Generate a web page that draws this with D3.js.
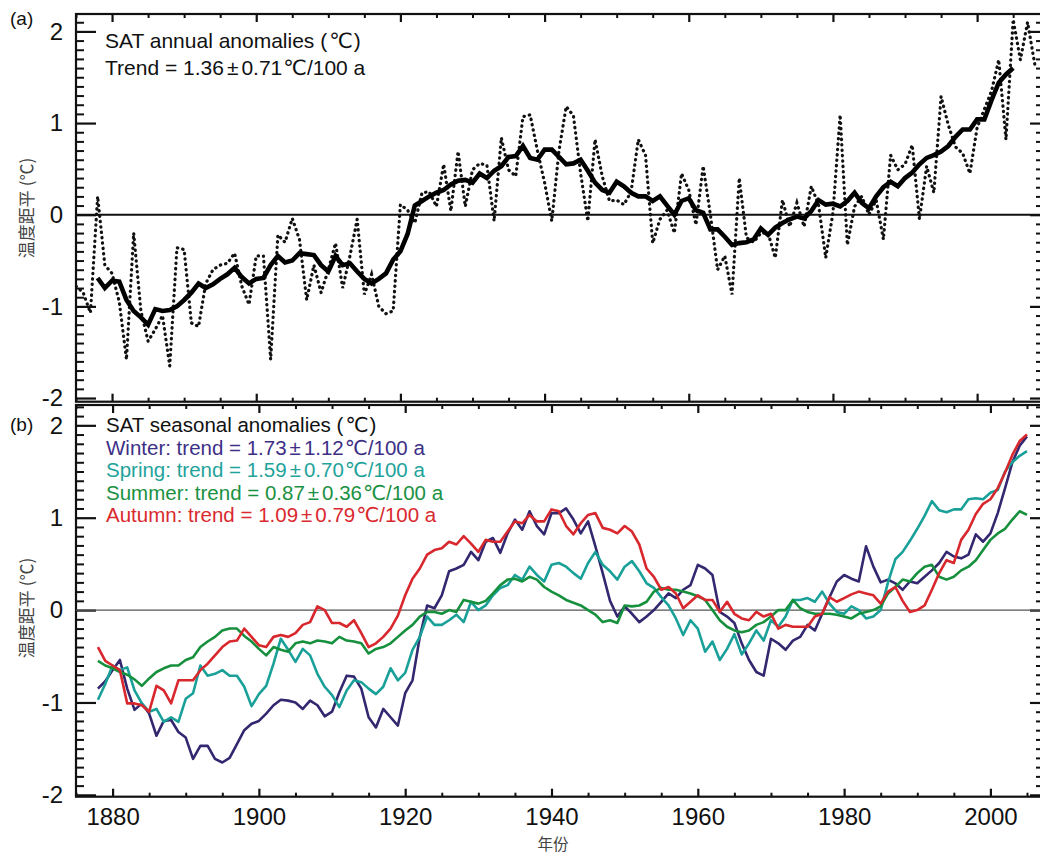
<!DOCTYPE html>
<html><head><meta charset="utf-8">
<script src="https://cdn.jsdelivr.net/npm/d3@7"></script>
<style>
body{margin:0;background:#fff}
svg{display:block}
text{font-family:"Liberation Sans",Arial,"Noto Sans CJK SC",sans-serif}
</style>
</head><body>
<svg id="c" width="1040" height="857"></svg>
<script>
// ---------------- data ----------------
const annualStart = 1875;
const annual = [
 -0.78,-0.85,-1.07,0.20,-0.55,
 -0.64,-0.95,-1.58,-0.20,-1.05,-1.38,-1.25,-1.10,-1.65,-0.36,
 -0.38,-1.18,-1.22,-0.75,-0.60,-0.55,-0.53,-0.42,-0.78,-0.98,
 -0.45,-0.45,-1.58,-0.22,-0.30,-0.04,-0.27,-0.93,-0.55,-0.85,
 -0.60,-0.31,-0.80,-0.45,-0.05,-0.87,-0.65,-1.00,-1.08,-1.05,
 0.11,0.05,-0.09,0.24,0.25,0.09,0.55,0.04,0.69,0.09,
 0.49,0.56,0.54,-0.07,0.84,0.49,0.42,1.07,1.09,0.70,
 0.35,-0.07,0.70,1.18,1.08,0.45,-0.07,0.82,0.42,0.15,
 0.16,0.11,0.25,0.82,0.65,-0.31,-0.05,0.05,-0.20,0.45,
 0.27,-0.11,0.53,0.00,-0.60,-0.45,-0.87,0.40,-0.25,-0.30,
 -0.20,-0.20,-0.47,0.16,-0.13,0.13,-0.13,0.31,0.11,-0.47,
 0.02,1.09,-0.33,0.09,0.20,0.00,0.16,-0.27,0.65,0.49,
 0.55,0.76,-0.05,0.53,0.24,1.29,0.98,0.74,0.67,0.45,
 0.95,1.15,1.35,1.69,0.82,2.13,1.69,2.10,1.64
];
const smoothStart = 1878;
const annualSmooth = [
 -0.69,-0.80,
 -0.72,-0.73,-0.93,-1.05,-1.12,-1.20,-1.03,-1.05,-1.04,-1.00,
 -0.93,-0.85,-0.75,-0.80,-0.76,-0.70,-0.65,-0.58,-0.68,-0.75,
 -0.70,-0.69,-0.55,-0.45,-0.52,-0.50,-0.42,-0.43,-0.44,-0.55,
 -0.62,-0.45,-0.55,-0.53,-0.62,-0.70,-0.75,-0.70,-0.64,-0.49,
 -0.40,-0.21,0.10,0.15,0.20,0.24,0.27,0.33,0.37,0.38,
 0.35,0.45,0.40,0.48,0.53,0.63,0.64,0.75,0.62,0.60,
 0.71,0.71,0.63,0.55,0.56,0.60,0.48,0.35,0.27,0.24,
 0.36,0.31,0.24,0.20,0.20,0.15,0.20,0.10,0.00,0.15,
 0.18,0.05,0.02,-0.16,-0.16,-0.24,-0.33,-0.31,-0.30,-0.27,
 -0.15,-0.22,-0.14,-0.09,-0.05,-0.02,-0.04,0.04,0.16,0.11,
 0.12,0.09,0.15,0.24,0.13,0.07,0.20,0.30,0.36,0.31,
 0.40,0.46,0.55,0.62,0.65,0.69,0.75,0.85,0.93,0.93,
 1.04,1.04,1.25,1.44,1.53,1.60
];
const seasonStart = 1878;
const winter = [
 -0.85,-0.77,
 -0.65,-0.54,-0.85,-1.08,-1.01,-1.12,-1.36,-1.20,-1.19,-1.32,
 -1.38,-1.61,-1.47,-1.47,-1.61,-1.65,-1.60,-1.45,-1.30,-1.23,
 -1.20,-1.12,-1.03,-0.97,-0.98,-1.00,-1.07,-0.98,-1.03,-1.15,
 -1.10,-0.89,-0.71,-0.72,-0.85,-1.16,-1.27,-1.07,-1.16,-1.25,
 -0.90,-0.76,-0.29,0.05,0.02,0.16,0.42,0.45,0.49,0.63,
 0.54,0.74,0.78,0.62,0.83,0.98,0.87,1.07,0.91,0.82,
 1.05,1.05,1.10,0.98,0.83,0.96,0.69,0.40,0.10,-0.07,
 0.04,-0.04,-0.13,-0.07,0.00,0.09,0.18,0.13,0.22,0.27,
 0.49,0.45,0.38,-0.02,-0.07,-0.14,-0.36,-0.54,-0.67,-0.71,
 -0.31,-0.36,-0.43,-0.33,-0.29,-0.16,-0.22,-0.04,0.14,0.31,
 0.38,0.34,0.31,0.69,0.47,0.30,0.33,0.29,0.22,0.31,
 0.29,0.36,0.43,0.51,0.63,0.58,0.56,0.60,0.82,0.74,
 0.83,1.05,1.32,1.60,1.78,1.88
];
const spring = [
 -0.97,-0.80,
 -0.60,-0.65,-0.62,-0.87,-1.01,-1.10,-1.07,-1.21,-1.16,-1.21,
 -0.96,-0.90,-0.60,-0.71,-0.69,-0.65,-0.71,-0.71,-0.83,-1.04,
 -0.91,-0.82,-0.58,-0.31,-0.43,-0.56,-0.42,-0.49,-0.69,-0.83,
 -0.92,-1.05,-0.87,-0.76,-0.78,-0.85,-0.91,-0.83,-0.63,-0.76,
 -0.68,-0.43,-0.29,-0.07,-0.16,-0.16,-0.11,-0.05,-0.13,0.09,
 0.00,0.05,0.16,0.24,0.27,0.38,0.33,0.47,0.38,0.31,
 0.49,0.51,0.47,0.40,0.34,0.51,0.63,0.49,0.42,0.33,
 0.47,0.53,0.42,0.29,0.24,0.14,0.05,-0.09,-0.27,-0.11,
 -0.20,-0.45,-0.34,-0.54,-0.42,-0.26,-0.48,-0.36,-0.22,-0.33,
 -0.11,-0.18,-0.07,0.11,0.11,0.13,0.09,0.20,0.07,-0.02,
 -0.04,0.04,0.00,-0.09,-0.07,0.00,0.30,0.55,0.63,0.75,
 0.88,1.02,1.18,1.08,1.06,1.09,1.09,1.20,1.21,1.20,
 1.27,1.30,1.50,1.60,1.67,1.72
];
const summer = [
 -0.55,-0.60,
 -0.63,-0.67,-0.70,-0.75,-0.82,-0.74,-0.67,-0.63,-0.60,-0.60,
 -0.54,-0.51,-0.40,-0.34,-0.29,-0.22,-0.20,-0.20,-0.28,-0.34,
 -0.42,-0.49,-0.40,-0.43,-0.45,-0.36,-0.34,-0.36,-0.33,-0.34,
 -0.36,-0.29,-0.33,-0.34,-0.36,-0.47,-0.42,-0.40,-0.36,-0.29,
 -0.22,-0.16,-0.07,-0.02,-0.02,-0.04,0.00,-0.02,0.11,0.09,
 0.07,0.10,0.18,0.27,0.33,0.34,0.31,0.36,0.33,0.25,
 0.20,0.16,0.11,0.08,0.05,0.00,-0.05,-0.13,-0.11,-0.14,
 0.05,0.04,0.05,0.09,0.20,0.24,0.22,0.22,0.20,0.18,
 0.15,0.11,0.00,-0.11,-0.18,-0.22,-0.24,-0.22,-0.16,-0.13,
 -0.07,0.00,0.00,0.11,0.02,-0.02,-0.04,-0.04,-0.04,-0.05,
 -0.07,-0.09,-0.04,-0.02,0.00,0.04,0.18,0.25,0.33,0.31,
 0.40,0.47,0.49,0.36,0.33,0.36,0.43,0.47,0.54,0.65,
 0.76,0.83,0.88,0.98,1.07,1.03
];
const autumn = [
 -0.40,-0.55,
 -0.60,-0.65,-1.01,-1.01,-1.03,-1.10,-0.82,-0.87,-1.01,-0.76,
 -0.76,-0.76,-0.65,-0.58,-0.49,-0.40,-0.34,-0.33,-0.20,-0.29,
 -0.38,-0.40,-0.29,-0.27,-0.29,-0.25,-0.16,-0.13,0.04,0.00,
 -0.14,-0.14,-0.18,-0.11,-0.25,-0.40,-0.36,-0.29,-0.20,-0.06,
 0.16,0.34,0.45,0.60,0.65,0.67,0.74,0.71,0.80,0.72,
 0.63,0.76,0.74,0.74,0.85,0.96,0.94,1.03,0.96,0.96,
 1.09,1.07,0.91,0.82,0.94,1.03,1.05,0.89,0.87,0.83,
 0.91,0.85,0.71,0.45,0.36,0.22,0.25,0.18,0.02,0.09,
 0.16,0.11,0.11,-0.02,0.09,-0.04,-0.09,-0.11,-0.02,-0.07,
 -0.04,-0.20,-0.16,-0.18,-0.18,-0.18,-0.07,-0.04,0.14,0.09,
 0.13,0.17,0.20,0.18,0.16,0.07,0.20,0.25,0.10,-0.02,
 0.00,0.05,0.22,0.40,0.54,0.51,0.76,0.87,1.04,1.15,
 1.20,1.32,1.49,1.68,1.83,1.90
];
const seasonNames = ["Winter","Spring","Summer","Autumn"];
const seasonTrend = ["1.73","1.59","0.87","1.09"];
const seasonErr = ["1.12","0.70","0.36","0.79"];
const seasonColors = ["#33286f","#19a098","#17903e","#d8272d"];
const seasonTextColors = ["#3d2f86","#1fa39b","#1a9142","#d92a2f"];
const yMajorTicks = [-2,-1,0,1,2];
const xMajorTicks = [1880,1900,1920,1940,1960,1980,2000];
const xMinorTicks = [1875,1885,1890,1895,1905,1910,1915,1925,1930,1935,1945,1950,1955,1965,1970,1975,1985,1990,1995,2005];

// ---------------- layout ----------------
const svg = d3.select("#c");
const xa = d3.scaleLinear().domain([1875, 2009]).range([76, 1042]);
const xb = d3.scaleLinear().domain([1875, 2007.05]).range([76, 1042]);
const ya = d3.scaleLinear().domain([-2.04, 2.19]).range([401.7, 14]);
const yb = d3.scaleLinear().domain([-2.02, 2.22]).range([796.7, 405]);

function series(start, vals){ return vals.map((v,i)=>({year:start+i, v})); }

function styleAxis(sel, sw){
  sel.select(".domain").remove();
  sel.selectAll(".tick line").attr("stroke","#111").attr("stroke-width",sw);
  sel.selectAll(".tick text").attr("fill","#111").style("font-size","24px")
     .style("font-family","'Liberation Sans',Arial,sans-serif");
}

function panel(x, y, id, xLabels){
  const g = svg.append("g");
  const [x0,x1] = x.range(); const [y1,y0] = y.range();
  const yMinor = d3.range(Math.ceil(y.domain()[0]*10), Math.floor(y.domain()[1]*10)+1)
     .filter(i => i % 10 !== 0).map(i => i/10);
  const yMaj = yMajorTicks.filter(v => v >= y.domain()[0] && v <= y.domain()[1]);
  svg.append("clipPath").attr("id", id).append("rect")
     .attr("x", x0).attr("y", y0).attr("width", x1-x0).attr("height", y1-y0);
  g.append("g").attr("transform",`translate(${x0},0)`)
    .call(d3.axisLeft(y).tickValues(yMinor).tickSize(-8).tickFormat(""))
    .call(s=>styleAxis(s,2));
  g.append("g").attr("transform",`translate(${x0},0)`)
    .call(d3.axisLeft(y).tickValues(yMaj).tickSize(-20).tickPadding(13).tickFormat(d=>String(d)))
    .call(s=>styleAxis(s,2.2));
  g.append("g").attr("transform",`translate(${x1},0)`)
    .call(d3.axisRight(y).tickValues(yMinor).tickSize(-6).tickFormat(""))
    .call(s=>styleAxis(s,2));
  g.append("g").attr("transform",`translate(${x1},0)`)
    .call(d3.axisRight(y).tickValues(yMaj).tickSize(-12).tickFormat(""))
    .call(s=>styleAxis(s,2.2));
  g.append("g").attr("transform",`translate(0,${y0})`)
    .call(d3.axisTop(x).tickValues(xMinorTicks).tickSize(-4).tickFormat(""))
    .call(s=>styleAxis(s,2));
  g.append("g").attr("transform",`translate(0,${y0})`)
    .call(d3.axisTop(x).tickValues(xMajorTicks).tickSize(-8).tickFormat(""))
    .call(s=>styleAxis(s,2.2));
  g.append("g").attr("transform",`translate(0,${y1})`)
    .call(d3.axisBottom(x).tickValues(xMinorTicks).tickSize(-4).tickFormat(""))
    .call(s=>styleAxis(s,2));
  g.append("g").attr("transform",`translate(0,${y1})`)
    .call(d3.axisBottom(x).tickValues(xMajorTicks).tickSize(-8).tickPadding(11)
      .tickFormat(xLabels ? (d=>String(d)) : ""))
    .call(s=>styleAxis(s,2.2));
  g.append("rect").attr("x",x0).attr("y",y0).attr("width",x1-x0).attr("height",y1-y0)
    .attr("fill","none").attr("stroke","#111").attr("stroke-width",2.2);
  return g;
}

// ---------------- panel (a) ----------------
const ga = panel(xa, ya, "clipA", false);
ga.append("line").attr("x1",xa.range()[0]).attr("x2",xa.range()[1])
  .attr("y1",ya(0)).attr("y2",ya(0)).attr("stroke","#111").attr("stroke-width",2);
const lineA = d3.line().x(d=>xa(d.year)).y(d=>ya(d.v));
const plotA = ga.append("g").attr("clip-path","url(#clipA)");
plotA.append("path").datum(series(annualStart, annual)).attr("d", lineA)
  .attr("fill","none").attr("stroke","#111").attr("stroke-width",3.2)
  .attr("stroke-linecap","round").attr("stroke-dasharray","0.4,5");
plotA.append("path").datum(series(smoothStart, annualSmooth)).attr("d", lineA)
  .attr("fill","none").attr("stroke","#000").attr("stroke-width",4.6)
  .attr("stroke-linejoin","miter");

// ---------------- panel (b) ----------------
const gb = panel(xb, yb, "clipB", true);
gb.append("line").attr("x1",xb.range()[0]).attr("x2",xb.range()[1])
  .attr("y1",yb(0)).attr("y2",yb(0)).attr("stroke","#555").attr("stroke-width",1.4);
const lineB = d3.line().x(d=>xb(d.year)).y(d=>yb(d.v));
const plotB = gb.append("g").attr("clip-path","url(#clipB)");
[winter, spring, summer, autumn].forEach((arr,i)=>{
  plotB.append("path").datum(series(seasonStart, arr)).attr("d", lineB)
    .attr("fill","none").attr("stroke",seasonColors[i]).attr("stroke-width",2.6)
    .attr("stroke-linejoin","round");
});

// ---------------- texts ----------------
const CJK = "'Noto Sans CJK SC',sans-serif";
const SYM = "'DejaVu Sans','Noto Sans CJK SC',sans-serif";
svg.append("text").attr("x",10).attr("y",25).style("font-size","19px").attr("fill","#111").text("(a)");
svg.append("text").attr("x",10).attr("y",431).style("font-size","19px").attr("fill","#111").text("(b)");

function trendText(t, pre, err){
  t.append("tspan").text(pre);
  t.append("tspan").attr("dx",3).text("±");
  t.append("tspan").attr("dx",3).text(err);
  t.append("tspan").attr("dx",1).style("font-family",SYM).text("℃");
  t.append("tspan").text("/100 a");
}

const la = svg.append("text").attr("x",105).attr("y",48).style("font-size","21px").attr("fill","#111");
la.append("tspan").text("SAT annual anomalies (");
la.append("tspan").attr("dx",2).style("font-family",SYM).text("℃");
la.append("tspan").attr("dx",1).text(")");
const lb = svg.append("text").attr("x",105).attr("y",75).style("font-size","21px").attr("fill","#111");
trendText(lb, "Trend = 1.36", "0.71");

const l0 = svg.append("text").attr("x",106).attr("y",432).style("font-size","20.5px").attr("fill","#111");
l0.append("tspan").text("SAT seasonal anomalies (");
l0.append("tspan").attr("dx",2).style("font-family",SYM).text("℃");
l0.append("tspan").attr("dx",1).text(")");
seasonNames.forEach((n,i)=>{
  const t = svg.append("text").attr("x",106).attr("y",455+i*22.3)
    .style("font-size","20.5px").attr("fill",seasonTextColors[i]);
  trendText(t, `${n}: trend = ${seasonTrend[i]}`, seasonErr[i]);
});

// axis titles
[[25,208],[25,608]].forEach(([x,y])=>{
  svg.append("text").attr("transform",`translate(${x},${y}) rotate(-90)`)
    .attr("text-anchor","middle").attr("dominant-baseline","central")
    .style("font-family",CJK).style("font-size","17px").attr("fill","#444")
    .text("温度距平 (℃)");
});
svg.append("text").attr("x",553).attr("y",843).attr("text-anchor","middle")
  .attr("dominant-baseline","central")
  .style("font-family",CJK).style("font-size","15.5px").attr("fill","#444").text("年份");
</script>
</body></html>
